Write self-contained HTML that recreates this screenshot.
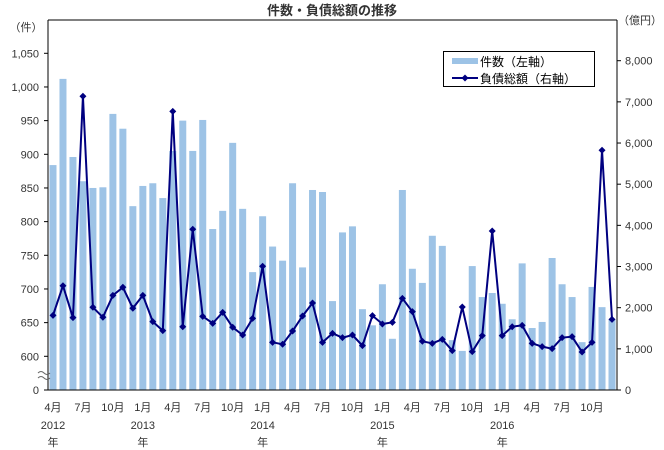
<!DOCTYPE html>
<html><head><meta charset="utf-8"><style>
body{margin:0;background:#fff}
svg{display:block;font-family:"Liberation Sans","Noto Sans CJK JP",sans-serif}
</style></head><body>
<svg id="c" width="664" height="450"></svg>
<script>
const months=["4月","5月","6月","7月","8月","9月","10月","11月","12月"];
const counts=[884,1012,896,860,850,851,960,938,823,853,857,835,905,950,905,951,789,816,917,819,725,808,763,742,857,732,847,844,682,784,793,670,646,707,626,847,730,709,779,764,624,608,734,688,694,678,655,738,642,651,746,707,688,621,703,673,655];
const debts=[1813,2534,1757,7135,2009,1766,2300,2495,1985,2300,1660,1441,6770,1538,3904,1790,1620,1887,1523,1336,1741,3005,1158,1110,1433,1798,2114,1158,1377,1271,1336,1077,1806,1604,1644,2227,1903,1183,1134,1231,956,2017,931,1320,3863,1320,1538,1571,1134,1053,1004,1271,1296,923,1158,5823,1717];
const leftTicks=[600,650,700,750,800,850,900,950,1000,1050];
const rightTicks=[0,1000,2000,3000,4000,5000,6000,7000,8000];
const startYear=2012,startMonth=4;
const NS="http://www.w3.org/2000/svg";
const svg=document.getElementById('c');
const X0=48,X1=617,TOP=20,BOT=390,BRK=356.3;
const n=counts.length, slot=(X1-X0)/n;
function xc(i){return X0+slot*(i+0.5);}
function yL(v){return v<600?BOT:BRK-(v-600)*(BRK-53.3)/450;}
function yR(v){return BOT-v*(BOT-60.7)/8000;}
function mk(t,a,p){const e=document.createElementNS(NS,t);for(const k in a)e.setAttribute(k,a[k]);(p||svg).appendChild(e);return e;}
function tx(x,y,s,anchor,size,weight){const e=mk('text',{x:x,y:y,'text-anchor':anchor||'middle','font-size':size||12,fill:'#333','font-weight':weight||'normal'});e.textContent=s;return e;}
const title=tx(332,15,'件数・負債総額の推移','middle',13,'bold');


// bars
counts.forEach((v,i)=>{const y=yL(v);const r=mk('rect',{x:xc(i)-3.5,y:y,width:7,height:BOT-y,fill:'#9dc3e6'});

});
// frame
mk('line',{x1:X0,y1:TOP,x2:X1,y2:TOP,stroke:'#000'});
mk('line',{x1:X0,y1:TOP,x2:X0,y2:BOT,stroke:'#000'});
mk('line',{x1:X1,y1:TOP,x2:X1,y2:BOT,stroke:'#000'});
mk('line',{x1:X0,y1:BOT,x2:X1,y2:BOT,stroke:'#000'});
// left ticks
leftTicks.forEach(v=>{const y=yL(v);mk('line',{x1:X0-4,y1:y,x2:X0,y2:y,stroke:'#000'});const t=tx(X0-9,y+4,v.toLocaleString('en-US'),'end',11);

});
mk('line',{x1:X0-4,y1:BOT,x2:X0,y2:BOT,stroke:'#000'});
tx(X0-9,BOT+4,'0','end',11);
tx(26,31,'（件）','middle',11);
mk('path',{d:'M38 378 q3 -3 6 0 t6 0 M38 373 q3 -3 6 0 t6 0',stroke:'#666',fill:'none','stroke-width':1});
// right ticks
rightTicks.forEach(v=>{const y=yR(v);mk('line',{x1:X1,y1:y,x2:X1+4,y2:y,stroke:'#000'});const t=tx(X1+8,y+4,v.toLocaleString('en-US'),'start',11);

});
tx(640,24,'（億円）','middle',11);
// x labels
for(let i=0;i<n;i+=3){const m=((startMonth-1+i)%12)+1;const t=tx(xc(i),411,m+'月','middle',11);

}
for(let i=0;i<n;i++){const m=((startMonth-1+i)%12)+1;if(i===0||m===1){const yr=startYear+Math.floor((startMonth-1+i)/12);tx(xc(i),429,String(yr),'middle',11);tx(xc(i),446,'年','middle',11);}}
// line
const pts=debts.map((v,i)=>xc(i)+','+yR(v)).join(' ');
const pl=mk('polyline',{points:pts,fill:'none',stroke:'#000080','stroke-width':2});


debts.forEach((v,i)=>{const x=xc(i),y=yR(v);const d=mk('path',{d:`M${x} ${y-3.5}L${x+3.5} ${y}L${x} ${y+3.5}L${x-3.5} ${y}Z`,fill:'#000080'});

});
// legend
const lg=mk('g',{});


mk('rect',{x:443.5,y:51.5,width:151,height:35,fill:'#fff',stroke:'#000'},lg);
mk('rect',{x:452,y:58,width:26,height:6,fill:'#9dc3e6'},lg);
tx(480,66,'件数（左軸）','start',12).setAttribute('fill','#000');
mk('line',{x1:452,y1:78,x2:478,y2:78,stroke:'#000080','stroke-width':2},lg);
mk('path',{d:'M465 74.5L468.5 78L465 81.5L461.5 78Z',fill:'#000080'},lg);
tx(480,83,'負債総額（右軸）','start',12).setAttribute('fill','#000');
</script>
</body></html>
